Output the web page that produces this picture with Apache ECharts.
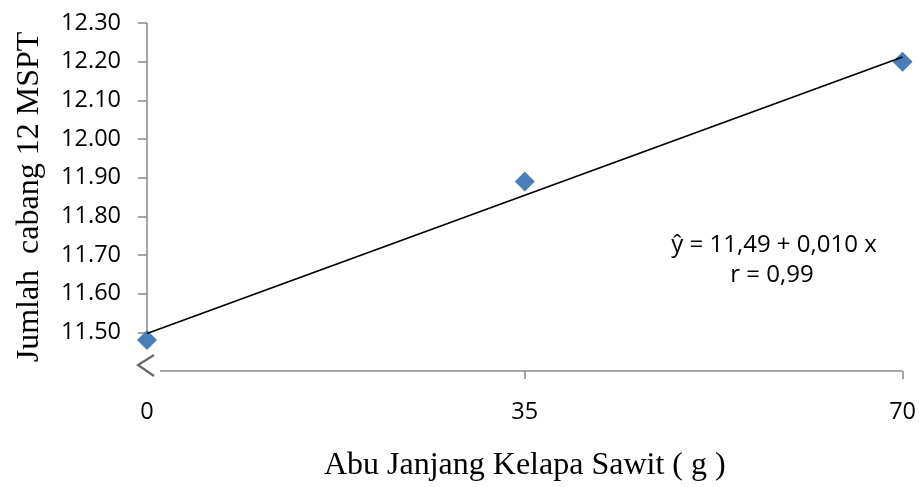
<!DOCTYPE html>
<html>
<head>
<meta charset="utf-8">
<script src="https://cdn.jsdelivr.net/npm/echarts@6/dist/echarts.min.js"></script>
<style>html,body{margin:0;padding:0;background:#fff}#c{width:919px;height:487px}</style>
</head>
<body>
<div id="c"></div>
<script>
// Data
var doses = [0, 35, 70];                 // Abu Janjang Kelapa Sawit (g)
var branches = [11.48, 11.89, 12.20];    // Jumlah cabang 12 MSPT
var trendX = [0, 70];
var trendY = [11.497, 12.212];           // regression line ŷ = 11,49 + 0,010 x
var xTicks = [0, 35, 70];
var yTicks = [11.50, 11.60, 11.70, 11.80, 11.90, 12.00, 12.10, 12.20, 12.30];
var equationLines = ['ŷ = 11,49 + 0,010 x', 'r = 0,99'];
var xTitle = 'Abu Janjang Kelapa Sawit ( g )';
var yTitle = 'Jumlah  cabang 12 MSPT';

var axisColor = '#888888';
var labelFont = 'Open Sans';
var titleFont = 'Liberation Serif';

var chart = echarts.init(document.getElementById('c'), null, {renderer: 'canvas'});

var option = {
  animation: false,
  backgroundColor: '#ffffff',
  grid: {left: 147, right: 16, top: 23, bottom: 115, containLabel: false},
  xAxis: {
    type: 'value', min: 0, max: 70, interval: 35,
    name: xTitle, nameLocation: 'middle', nameGap: 79,
    nameTextStyle: {fontFamily: titleFont, fontSize: 32, color: '#000'},
    axisLine: {show: false},
    axisTick: {show: true, customValues: [35, 70], length: 8, lineStyle: {color: axisColor, width: 1.5}},
    axisLabel: {margin: 29, fontFamily: labelFont, fontSize: 23.5, color: '#000', customValues: xTicks},
    splitLine: {show: false}
  },
  yAxis: {
    type: 'value', min: 11.40, max: 12.30, interval: 0.1,
    name: yTitle, nameLocation: 'middle', nameGap: 101,
    nameTextStyle: {fontFamily: titleFont, fontSize: 32, color: '#000'},
    axisLine: {show: false},
    axisTick: {show: true, customValues: yTicks, length: 9, lineStyle: {color: axisColor, width: 1.5}},
    axisLabel: {margin: 26, fontFamily: labelFont, fontSize: 23.5, color: '#000',
      customValues: yTicks,
      formatter: function (v) { return v.toFixed(2); }},
    splitLine: {show: false}
  },
  series: [
    {
      type: 'scatter', symbol: 'diamond', symbolSize: 20,
      itemStyle: {color: '#4a7ebb', opacity: 1},
      data: doses.map(function (d, i) { return [d, branches[i]]; }),
      z: 2
    },
    {
      type: 'line', showSymbol: false, symbol: 'none',
      lineStyle: {color: '#000', width: 1.8},
      data: trendX.map(function (d, i) { return [d, trendY[i]]; }),
      z: 3
    }
  ]
};
chart.setOption(option);

function px(x, y) { return chart.convertToPixel({gridIndex: 0}, [x, y]); }
var yTop = px(0, 12.30), yBot = px(0, 11.50), origin = px(0, 11.40), xEnd = px(70, 11.40);
chart.setOption({
  graphic: [
    {type: 'line', shape: {x1: yTop[0], y1: yTop[1], x2: yBot[0], y2: yBot[1]},
     style: {stroke: axisColor, lineWidth: 1.5}},
    {type: 'line', shape: {x1: origin[0] + 13, y1: origin[1], x2: xEnd[0], y2: xEnd[1]},
     style: {stroke: axisColor, lineWidth: 1.5}},
    {type: 'polyline', shape: {points: [[origin[0] + 7, origin[1] - 16], [origin[0] - 9, origin[1] - 6], [origin[0] + 7, origin[1] + 5]]},
     style: {stroke: '#666', lineWidth: 2.2, fill: null}},
    {type: 'text', x: 774, y: 245,
     style: {text: equationLines[0], fontFamily: labelFont, fontSize: 24, fill: '#000', align: 'center', verticalAlign: 'middle'}},
    {type: 'text', x: 772, y: 275,
     style: {text: equationLines[1], fontFamily: labelFont, fontSize: 24, fill: '#000', align: 'center', verticalAlign: 'middle'}}
  ]
});
</script>
</body>
</html>
